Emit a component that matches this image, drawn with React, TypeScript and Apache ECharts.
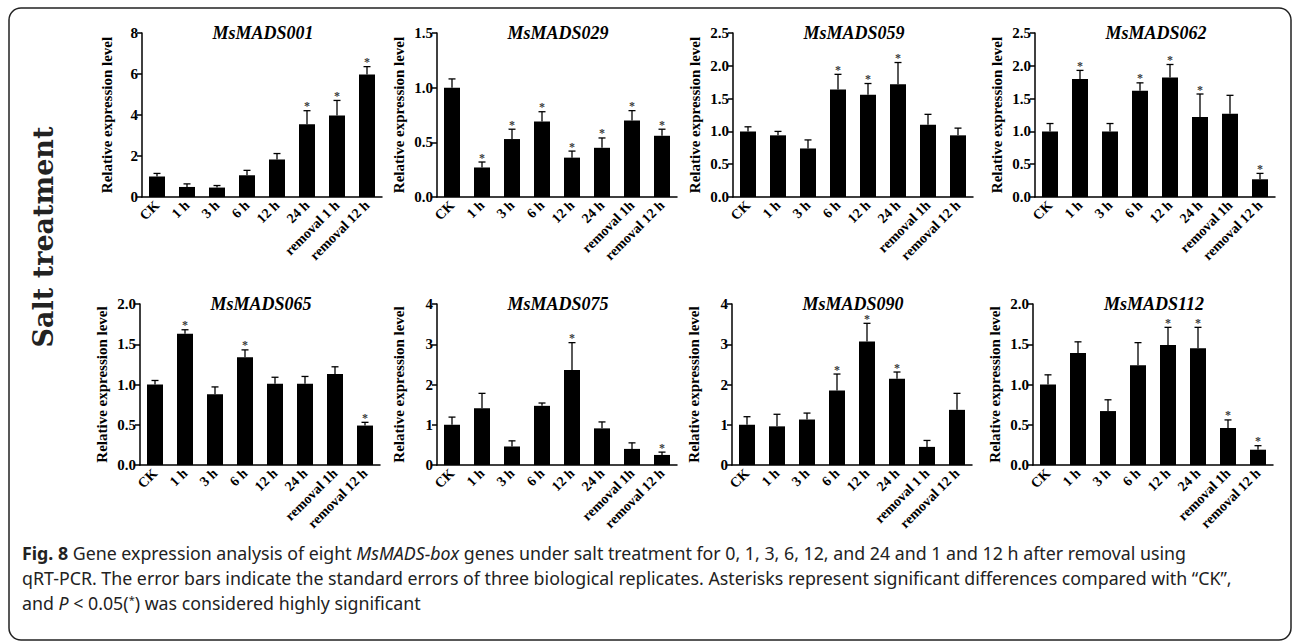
import React, { useEffect, useRef } from "react";
import * as echarts from "echarts";

// ---------- data ----------
const categoriesA = ["CK", "1 h", "3 h", "6 h", "12 h", "24 h", "removal 1 h", "removal 12 h"];
const categoriesB = ["CK", "1 h", "3 h", "6 h", "12 h", "24 h", "removal 1h", "removal 12 h"];

const genes = ["MsMADS001", "MsMADS029", "MsMADS059", "MsMADS062", "MsMADS065", "MsMADS075", "MsMADS090", "MsMADS112"];

const mads001Mean = [1.0, 0.49, 0.46, 1.06, 1.83, 3.55, 3.98, 5.98];
const mads001Err = [0.15, 0.15, 0.1, 0.24, 0.29, 0.66, 0.73, 0.38];
const mads001Sig = [0, 0, 0, 0, 0, 1, 1, 1];

const mads029Mean = [1.0, 0.27, 0.53, 0.69, 0.36, 0.45, 0.7, 0.56];
const mads029Err = [0.08, 0.05, 0.09, 0.09, 0.06, 0.09, 0.09, 0.06];
const mads029Sig = [0, 1, 1, 1, 1, 1, 1, 1];

const mads059Mean = [1.0, 0.94, 0.74, 1.64, 1.56, 1.72, 1.1, 0.94];
const mads059Err = [0.07, 0.06, 0.13, 0.23, 0.17, 0.33, 0.16, 0.11];
const mads059Sig = [0, 0, 0, 1, 1, 1, 0, 0];

const mads062Mean = [1.0, 1.8, 1.0, 1.62, 1.82, 1.22, 1.27, 0.27];
const mads062Err = [0.12, 0.13, 0.12, 0.12, 0.2, 0.35, 0.28, 0.09];
const mads062Sig = [0, 1, 0, 1, 1, 1, 0, 1];

const mads065Mean = [1.0, 1.63, 0.88, 1.34, 1.01, 1.01, 1.13, 0.49];
const mads065Err = [0.05, 0.05, 0.09, 0.09, 0.08, 0.09, 0.09, 0.04];
const mads065Sig = [0, 1, 0, 1, 0, 0, 0, 1];

const mads075Mean = [1.0, 1.41, 0.46, 1.47, 2.36, 0.91, 0.4, 0.25];
const mads075Err = [0.19, 0.37, 0.14, 0.07, 0.68, 0.16, 0.15, 0.07];
const mads075Sig = [0, 0, 0, 0, 1, 0, 0, 1];

const mads090Mean = [1.0, 0.96, 1.13, 1.85, 3.07, 2.14, 0.45, 1.37];
const mads090Err = [0.2, 0.3, 0.16, 0.41, 0.45, 0.17, 0.16, 0.41];
const mads090Sig = [0, 0, 0, 1, 1, 1, 0, 0];

const mads112Mean = [1.0, 1.39, 0.67, 1.24, 1.49, 1.45, 0.46, 0.19];
const mads112Err = [0.12, 0.14, 0.14, 0.28, 0.22, 0.26, 0.1, 0.05];
const mads112Sig = [0, 0, 0, 0, 1, 1, 1, 1];

const yMax = [8, 1.5, 2.5, 2.5, 2.0, 4, 4, 2.0];
const yStep = [2, 0.5, 0.5, 0.5, 0.5, 1, 1, 0.5];
const yDecimals = [0, 1, 1, 1, 1, 0, 0, 1];

const yAxisName = "Relative expression level";
const sideLabel = "Salt treatment";
const captionLines = [
  "{b|Fig. 8} Gene expression analysis of eight {i|MsMADS-box} genes under salt treatment for 0, 1, 3, 6, 12, and 24 and 1 and 12 h after removal using",
  "qRT-PCR. The error bars indicate the standard errors of three biological replicates. Asterisks represent significant differences compared with \u201CCK\u201D,",
  "and {i|P} < 0.05({s|*}) was considered highly significant",
];

// ---------- layout ----------
const SERIF = '"Liberation Serif", "Times New Roman", serif';
const SANS = '"Noto Sans", "Open Sans", sans-serif';
const lefts = [142, 437, 733, 1035, 140, 437, 732, 1033];
const tops = [33, 33, 33, 33, 304, 304, 304, 304];
const heights = [164, 164, 164, 164, 161, 161, 161, 161];
const nameGaps = [28, 31, 31, 31, 31, 31, 31, 31];
const plotW = 240;

const panels = [
  { cats: categoriesA, mean: mads001Mean, err: mads001Err, sig: mads001Sig },
  { cats: categoriesB, mean: mads029Mean, err: mads029Err, sig: mads029Sig },
  { cats: categoriesB, mean: mads059Mean, err: mads059Err, sig: mads059Sig },
  { cats: categoriesB, mean: mads062Mean, err: mads062Err, sig: mads062Sig },
  { cats: categoriesB, mean: mads065Mean, err: mads065Err, sig: mads065Sig },
  { cats: categoriesB, mean: mads075Mean, err: mads075Err, sig: mads075Sig },
  { cats: categoriesA, mean: mads090Mean, err: mads090Err, sig: mads090Sig },
  { cats: categoriesB, mean: mads112Mean, err: mads112Err, sig: mads112Sig },
];

function renderErr(params: any, api: any) {
  const j = api.value(0);
  const base = api.coord([j, api.value(1)]);
  const top = api.coord([j, api.value(2)]);
  return {
    type: "group",
    children: [
      { type: "line", shape: { x1: base[0], y1: base[1], x2: top[0], y2: top[1] }, style: { stroke: "#000", lineWidth: 1.3 } },
      { type: "line", shape: { x1: top[0] - 3.5, y1: top[1], x2: top[0] + 3.5, y2: top[1] }, style: { stroke: "#000", lineWidth: 1.3 } },
    ],
  };
}

function buildOption(): any {
  const grid = panels.map((p, i) => ({ left: lefts[i], top: tops[i], width: plotW, height: heights[i] }));
  const xAxis = panels.map((p, i) => ({
    gridIndex: i,
    type: "category",
    data: p.cats,
    axisLine: { lineStyle: { color: "#000", width: 1.5 } },
    axisTick: { alignWithLabel: true, length: 5, lineStyle: { color: "#000", width: 1.5 } },
    axisLabel: { rotate: 45, interval: 0, margin: 6, color: "#000", fontFamily: SERIF, fontWeight: "bold", fontSize: 14 },
    splitLine: { show: false },
  }));
  const yAxis = panels.map((p, i) => ({
    gridIndex: i,
    type: "value",
    min: 0,
    max: yMax[i],
    interval: yStep[i],
    name: yAxisName,
    nameLocation: "middle",
    nameRotate: 90,
    nameGap: nameGaps[i],
    nameTextStyle: { fontFamily: SERIF, fontWeight: "bold", fontSize: 15, color: "#000" },
    axisLine: { show: true, lineStyle: { color: "#000", width: 1.5 } },
    axisTick: { show: true, length: 5, lineStyle: { color: "#000", width: 1.5 } },
    axisLabel: {
      margin: 4,
      color: "#000",
      fontFamily: SERIF,
      fontWeight: "bold",
      fontSize: 15,
      formatter: (v: number) => v.toFixed(yDecimals[i]),
    },
    splitLine: { show: false },
  }));
  const series: any[] = [];
  panels.forEach((p, i) => {
    series.push({
      type: "bar",
      xAxisIndex: i,
      yAxisIndex: i,
      data: p.mean,
      barWidth: 16,
      itemStyle: { color: "#000" },
      silent: true,
    });
    series.push({
      type: "custom",
      xAxisIndex: i,
      yAxisIndex: i,
      data: p.mean.map((m, j) => [j, m, m + p.err[j]]),
      renderItem: renderErr,
      itemStyle: { color: "#000" },
      silent: true,
      z: 5,
    });
    const stars: any[] = [];
    p.mean.forEach((m, j) => {
      if (p.sig[j]) stars.push([j, m + p.err[j]]);
    });
    series.push({
      type: "scatter",
      xAxisIndex: i,
      yAxisIndex: i,
      data: stars,
      symbol: "circle",
      symbolSize: 1,
      itemStyle: { color: "rgba(0,0,0,0)" },
      silent: true,
      z: 6,
      label: {
        show: true,
        formatter: "*",
        position: "top",
        distance: -2,
        color: "#000",
        fontFamily: SERIF,
        fontWeight: "bold",
        fontSize: 12,
      },
    });
  });

  const graphic: any[] = [
    {
      type: "rect",
      shape: { x: 9, y: 8, width: 1282, height: 632, r: 12 },
      style: { fill: "none", stroke: "#222", lineWidth: 1.5 },
      z: -10,
    },
    {
      type: "text",
      x: 43,
      y: 237,
      rotation: Math.PI / 2,
      style: {
        text: sideLabel,
        fontSize: 27,
        fontWeight: "bold",
        fontFamily: '"DejaVu Serif", serif',
        fill: "#222",
        align: "center",
        verticalAlign: "middle",
        textAlign: "center",
        textVerticalAlign: "middle",
      },
    },
  ];
  genes.forEach((g, i) => {
    graphic.push({
      type: "text",
      x: lefts[i] + 121,
      y: tops[i],
      style: {
        text: g,
        fontSize: 18,
        fontFamily: SERIF,
        fontWeight: "bold",
        fontStyle: "italic",
        fill: "#000",
        align: "center",
        verticalAlign: "middle",
        textAlign: "center",
        textVerticalAlign: "middle",
      },
    });
  });
  const richBase = { fontSize: 17.8, fontFamily: SANS, fill: "#222" };
  captionLines.forEach((line, k) => {
    graphic.push({
      type: "text",
      x: 22,
      y: 553 + k * 25,
      style: {
        text: line,
        ...richBase,
        align: "left",
        verticalAlign: "middle",
        textAlign: "left",
        textVerticalAlign: "middle",
        rich: {
          b: { ...richBase, fontWeight: "bold" },
          i: { ...richBase, fontStyle: "italic" },
          s: { fontSize: 11, fontFamily: SANS, fill: "#222", verticalAlign: "top" },
        },
      },
    });
  });

  return { animation: false, backgroundColor: "#fff", grid, xAxis, yAxis, series, graphic };
}

export default function App() {
  const ref = useRef<HTMLDivElement>(null);
  useEffect(() => {
    document.body.style.margin = "0";
    const chart = echarts.init(ref.current as HTMLDivElement, null, { renderer: "svg" });
    chart.setOption(buildOption());
    return () => chart.dispose();
  }, []);
  return <div ref={ref} style={{ width: 1295, height: 643, background: "#fff" }} />;
}
